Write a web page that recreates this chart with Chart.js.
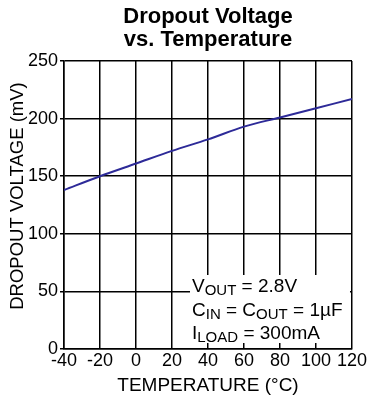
<!DOCTYPE html>
<html>
<head>
<meta charset="utf-8">
<script src="https://cdn.jsdelivr.net/npm/chart.js@4/dist/chart.umd.min.js"></script>
<style>
  html, body { margin: 0; padding: 0; background: #fff; }
  #wrap { width: 368px; height: 399px; }
</style>
</head>
<body>
<div id="wrap"><canvas id="myChart" width="368" height="399"></canvas></div>
<script>
// data
const temps = [-40, -20, 0, 20, 40, 60, 80, 100, 120];
const dropout = [138, 150, 161, 172, 182, 193, 201, 209, 217];
const xTicks = [-40, -20, 0, 20, 40, 60, 80, 100, 120];
const yTicks = [0, 50, 100, 150, 200, 250];
const titleLines = ['Dropout Voltage', 'vs. Temperature'];
const yTitle = 'DROPOUT VOLTAGE (mV)';
// each note line: [text, isSubscript] pieces
const noteLines = [
    [['V', false], ['OUT', true], [' = 2.8V', false]],
    [['C', false], ['IN', true], [' = C', false], ['OUT', true], [' = 1µF', false]],
    [['I', false], ['LOAD', true], [' = 300mA', false]]
];

const FONT = '"Liberation Sans", Arial, sans-serif';

// title, y title and condition box
const extras = {
    id: 'extras',
    beforeDatasetsDraw(chart) {
        const ctx = chart.ctx;
        const a = chart.chartArea;
        ctx.save();
        ctx.fillStyle = '#fff';
        ctx.fillRect(a.left + 126, a.bottom - 74, a.right - a.left - 128, 68);
        ctx.restore();
    },
    afterDraw(chart) {
        const ctx = chart.ctx;
        const a = chart.chartArea;
        ctx.save();
        ctx.fillStyle = '#000';
        ctx.textAlign = 'center';
        ctx.textBaseline = 'alphabetic';
        ctx.font = 'bold 22px ' + FONT;
        const cx = (a.left + a.right) / 2;
        ctx.fillText(titleLines[0], cx, 23);
        ctx.fillText(titleLines[1], cx, 46);

        // y axis title, a bit above the plot centre like the original
        ctx.save();
        ctx.translate(17.5, 196);
        ctx.rotate(-Math.PI / 2);
        ctx.textBaseline = 'middle';
        ctx.font = '18.5px ' + FONT;
        ctx.fillText(yTitle, 0, 0);
        ctx.restore();

        ctx.textAlign = 'left';
        let y = a.bottom - 57;
        for (const line of noteLines) {
            let x = a.left + 128;
            for (const [txt, sub] of line) {
                ctx.font = (sub ? '15px ' : '19px ') + FONT;
                ctx.fillText(txt, x, sub ? y + 3 : y);
                x += ctx.measureText(txt).width;
            }
            y += 23.5;
        }
        ctx.restore();
    }
};

const points = temps.map((t, i) => ({ x: t, y: dropout[i] }));

new Chart(document.getElementById('myChart'), {
    type: 'line',
    data: {
        datasets: [{
            data: points,
            borderColor: '#2d2a98',
            borderWidth: 2,
            pointRadius: 0,
            cubicInterpolationMode: 'monotone',
            fill: false
        }]
    },
    options: {
        responsive: false,
        animation: false,
        events: [],
        layout: { padding: { top: 61, right: 15, left: 0, bottom: 0 } },
        plugins: {
            legend: { display: false },
            tooltip: { enabled: false },
            title: { display: false }
        },
        scales: {
            x: {
                type: 'linear',
                min: -40,
                max: 120,
                afterFit(scale) { scale.height = 50; },
                afterBuildTicks(scale) { scale.ticks = xTicks.map(v => ({ value: v })); },
                grid: { color: '#000', lineWidth: 1.5, drawTicks: false },
                border: { color: '#000', width: 1.5 },
                ticks: {
                    color: '#000',
                    padding: 1,
                    maxRotation: 0,
                    autoSkip: false,
                    font: { family: FONT, size: 18 }
                },
                title: {
                    display: true,
                    text: 'TEMPERATURE (°C)',
                    color: '#000',
                    font: { family: FONT, size: 19 },
                    padding: { top: 0, bottom: 2 }
                }
            },
            y: {
                min: 0,
                max: 250,
                afterFit(scale) { scale.width = 64; },
                afterBuildTicks(scale) { scale.ticks = yTicks.map(v => ({ value: v })); },
                grid: { color: '#000', lineWidth: 1.5, tickLength: 4 },
                border: { color: '#000', width: 1.5 },
                ticks: {
                    color: '#000',
                    padding: 2,
                    font: { family: FONT, size: 18 }
                },
                title: { display: false }
            }
        }
    },
    plugins: [extras]
});
</script>
</body>
</html>
